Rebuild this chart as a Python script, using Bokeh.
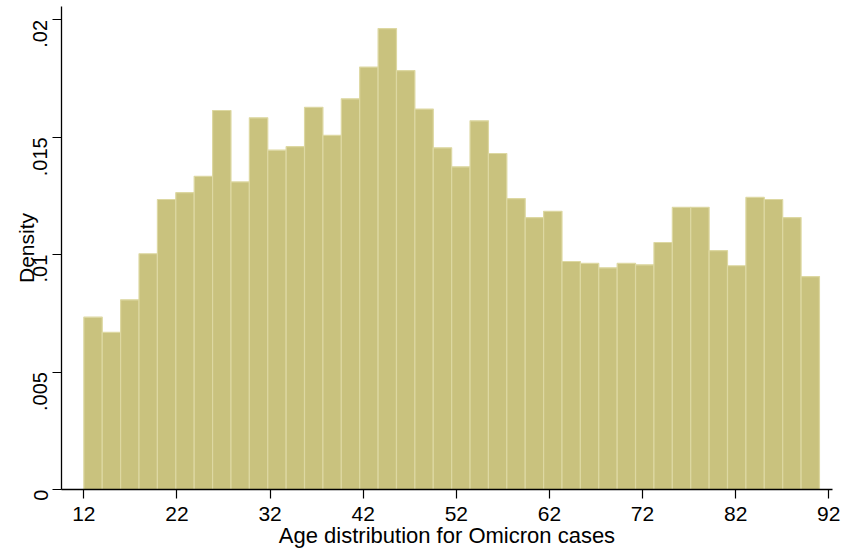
import numpy as np
from math import pi
from bokeh.plotting import figure
from bokeh.models import Range1d, FixedTicker
from bokeh.embed import file_html
from bokeh.resources import INLINE

# Histogram of age (density), 40 bins starting at 12
bin_start = 12.0
bin_width = 1.975
density = [0.00734, 0.00669, 0.00808, 0.01004, 0.01235, 0.01264, 0.01334, 0.01614,
           0.01310, 0.01583, 0.01445, 0.01460, 0.01628, 0.01508, 0.01664, 0.01799,
           0.01963, 0.01784, 0.01620, 0.01455, 0.01374, 0.01570, 0.01431, 0.01239,
           0.01158, 0.01185, 0.00971, 0.00963, 0.00944, 0.00963, 0.00957, 0.01052,
           0.01202, 0.01202, 0.01017, 0.00953, 0.01244, 0.01235, 0.01158, 0.00907]

x_ticks = [12, 22, 32, 42, 52, 62, 72, 82, 92]
y_ticks = [0, 0.005, 0.01, 0.015, 0.02]
y_tick_labels = ["0", ".005", ".01", ".015", ".02"]

x_label = "Age distribution for Omicron cases"
y_label = "Density"

lefts = bin_start + bin_width * np.arange(len(density))
rights = lefts + bin_width

FONT = "Liberation Sans"

p = figure(width=863, height=556, output_backend="svg", toolbar_location=None,
           x_range=Range1d(9.6, 92.4), y_range=Range1d(0, 0.02057),
           min_border_left=61, min_border_right=31, min_border_top=6, min_border_bottom=67)
p.outline_line_color = None
p.xgrid.visible = False
p.ygrid.visible = False
p.background_fill_color = "white"
p.border_fill_color = "white"

p.quad(left=lefts, right=rights, bottom=0, top=density,
       fill_color="#C9C27E", line_color="#DDD8A2", line_width=1.2)

# x axis
xa = p.xaxis[0]
xa.ticker = FixedTicker(ticks=x_ticks)
xa.axis_label = x_label
xa.axis_label_text_font = FONT
xa.axis_label_text_font_size = "22px"
xa.axis_label_text_font_style = "normal"
xa.axis_label_text_color = "black"
xa.axis_label_standoff = -1
xa.major_label_text_font = FONT
xa.major_label_text_font_size = "21px"
xa.major_label_text_color = "black"
xa.major_label_standoff = 8
xa.major_tick_out = 9
xa.major_tick_in = 0
xa.minor_tick_out = 0
xa.minor_tick_in = 0
xa.axis_line_color = "black"
xa.major_tick_line_color = "black"
xa.axis_line_width = 1.3
xa.major_tick_line_width = 1.2

# y axis
ya = p.yaxis[0]
ya.ticker = FixedTicker(ticks=y_ticks)
ya.major_label_overrides = {t: l for t, l in zip(y_ticks, y_tick_labels)}
ya.major_label_orientation = pi / 2
ya.axis_label = y_label
ya.axis_label_text_font = FONT
ya.axis_label_text_font_size = "21px"
ya.axis_label_text_font_style = "normal"
ya.axis_label_text_color = "black"
ya.axis_label_standoff = -14
ya.major_label_text_font = FONT
ya.major_label_text_font_size = "20px"
ya.major_label_text_color = "black"
ya.major_label_standoff = 12
ya.major_tick_out = 9
ya.major_tick_in = 0
ya.minor_tick_out = 0
ya.minor_tick_in = 0
ya.axis_line_color = "black"
ya.major_tick_line_color = "black"
ya.axis_line_width = 1.3
ya.major_tick_line_width = 1.2

open("out.html", "w").write(file_html(p, INLINE))
